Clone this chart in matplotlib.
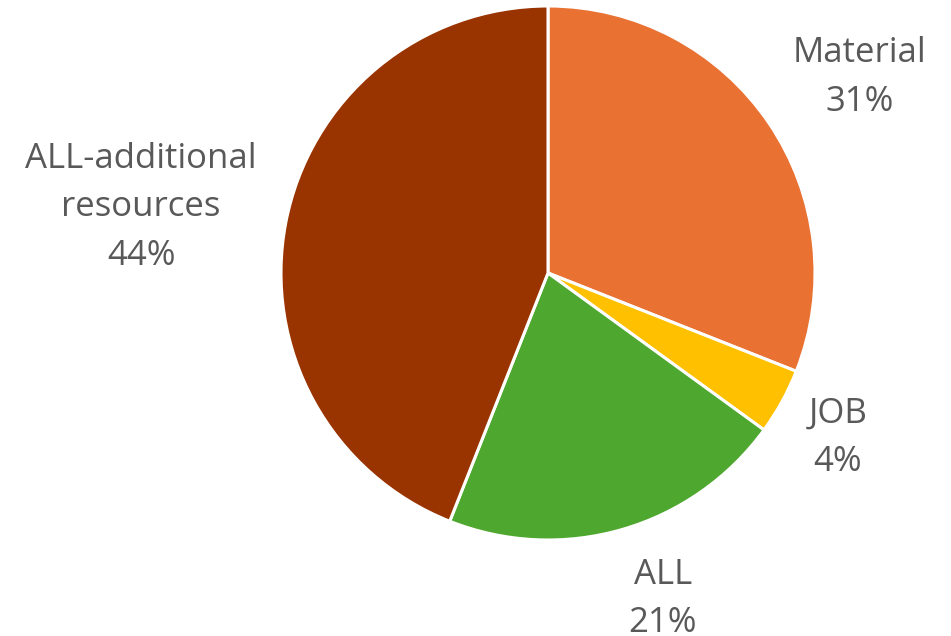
import matplotlib
matplotlib.use("Agg")
import matplotlib.pyplot as plt
import numpy as np

categories = ["Material", "JOB", "ALL", "ALL-additional\nresources"]
values = [31, 4, 21, 44]
colors = ["#E97132", "#FFC000", "#4EA72E", "#993300"]
label_dist = [1.379, 1.249, 1.295, 1.544]
label_angle_shift = [-2.1, -0.8, 3.2, 1.6]

W, H = 951, 636
fig = plt.figure(figsize=(W / 100, H / 100), dpi=100)
ax = fig.add_axes([0, 0, 1, 1])

cx, cy, R = 548, 363, 267
wedges, _ = ax.pie(values, colors=colors, startangle=90, counterclock=False,
                   center=(cx, cy), radius=R, frame=True,
                   wedgeprops=dict(edgecolor="white", linewidth=2.2))
ax.set_xlim(0, W)
ax.set_ylim(0, H)
ax.set_aspect("equal")
ax.axis("off")

total = sum(values)
for w, cat, v, d, s in zip(wedges, categories, values, label_dist, label_angle_shift):
    ang = np.deg2rad((w.theta1 + w.theta2) / 2 + s)
    x = cx + d * R * np.cos(ang)
    y = cy + d * R * np.sin(ang)
    ax.text(x, y, f"{cat}\n{round(100 * v / total)}%", ha="center", va="center",
            fontsize=25, color="#595959", family="Open Sans", linespacing=1.56)

fig.savefig("out.png", dpi=100)
